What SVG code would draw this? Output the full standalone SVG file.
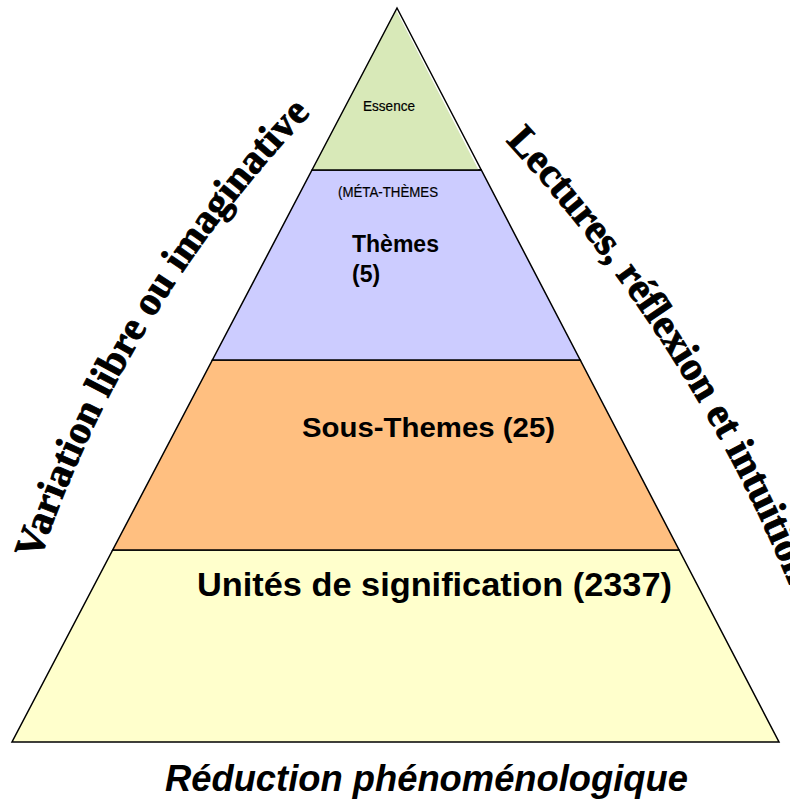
<svg xmlns="http://www.w3.org/2000/svg" xmlns:xlink="http://www.w3.org/1999/xlink" width="790" height="801" viewBox="0 0 790 801">
<style>
.layer{stroke:#000;stroke-width:1.5;stroke-linejoin:miter}
.sans{font-family:"Liberation Sans",Arial,sans-serif;fill:#000}
.narrow{font-family:"Liberation Sans Narrow","Liberation Sans",Arial,sans-serif;fill:#000}
.b{font-weight:bold}
.arc{font-family:"Liberation Serif","Times New Roman",serif;font-weight:bold;fill:#000;stroke:#000;stroke-width:0.9;stroke-linejoin:round}
</style>
<defs>
<path id="leftArc" d="M 39.5 560.5 A 1205 1205 0 0 1 430 5"/>
<path id="rightArc" d="M 505.5 141 A 1500 1500 0 0 1 903.7 1158.7"/>
</defs>
<rect width="790" height="801" fill="#fff"/>
<g id="layer-unites">
<polygon class="layer" fill="#FFFFCC" points="112.7,550 679.1,550 779,742 12,742"/>
<text class="sans b" x="197" y="596" font-size="34" textLength="475" lengthAdjust="spacingAndGlyphs">Unités de signification (2337)</text>
</g>
<g id="layer-sous-themes">
<polygon class="layer" fill="#FFBF80" points="212.4,360 580.2,360 679.1,550 112.7,550"/>
<text class="sans b" x="302" y="437" font-size="28" textLength="253" lengthAdjust="spacingAndGlyphs">Sous-Themes (25)</text>
</g>
<g id="layer-themes">
<polygon class="layer" fill="#CCCCFF" points="312,170 481.3,170 580.2,360 212.4,360"/>
<text class="narrow" x="338" y="197" font-size="14" textLength="100" lengthAdjust="spacingAndGlyphs" stroke="#000" stroke-width="0.2">(MÉTA-THÈMES</text>
<text class="sans b" x="352" y="252" font-size="23">Thèmes</text>
<text class="sans b" x="352" y="282" font-size="23">(5)</text>
</g>
<g id="layer-essence">
<polygon fill="#D8E9B8" points="395.8,9.5 312,170 478.6,170"/>
<polyline fill="none" stroke="#000" stroke-width="1.5" points="312,170 397,8 481.3,170"/>
<line x1="312" y1="170" x2="481.3" y2="170" stroke="#000" stroke-width="1.5"/>
<text class="narrow" x="389" y="111" font-size="14.5" text-anchor="middle" textLength="52" lengthAdjust="spacingAndGlyphs" stroke="#000" stroke-width="0.2">Essence</text>
</g>
<g id="label-variation">
<text class="arc" font-size="40.5"><textPath xlink:href="#leftArc" href="#leftArc" textLength="527" lengthAdjust="spacing">Variation libre ou imaginative</textPath></text>
</g>
<g id="label-lectures">
<text class="arc" font-size="41"><textPath xlink:href="#rightArc" href="#rightArc">Lectures, réflexion et intuition</textPath></text>
</g>
<g id="label-reduction">
<text class="sans b" x="165" y="791" font-size="37" font-style="italic" textLength="523" lengthAdjust="spacingAndGlyphs">Réduction phénoménologique</text>
</g>
<g id="connectors"></g>
</svg>
